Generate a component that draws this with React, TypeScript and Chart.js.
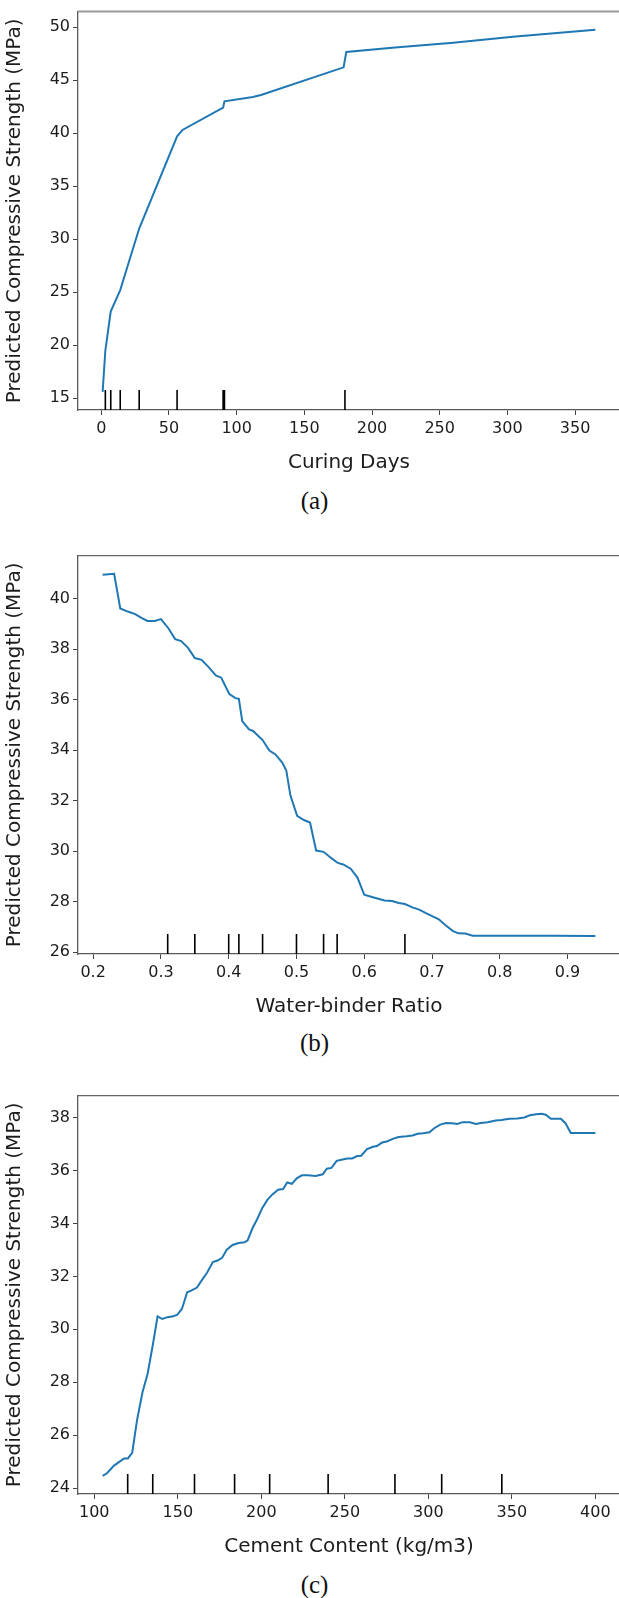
import { useEffect, useRef } from "react";
import { Chart, registerables } from "chart.js";

Chart.register(...registerables);

// ---------- (a) Curing Days ----------
const curingDays = [1, 3, 7, 14, 21, 28, 56, 60, 90, 91, 112, 118, 179, 181, 217, 260, 304, 365];
const strengthA = [15.6, 19.5, 23.2, 25.2, 28.1, 31.0, 39.7, 40.3, 42.4, 43.0, 43.4, 43.6, 46.2, 47.65, 48.07, 48.52, 49.08, 49.75];
const decilesA = [3, 7, 14, 28, 56, 90, 91, 180];
const xTicksA = [0, 50, 100, 150, 200, 250, 300, 350];
const xLabelsA = ["0", "50", "100", "150", "200", "250", "300", "350"];
const yTicksA = [15, 20, 25, 30, 35, 40, 45, 50];

// ---------- (b) Water-binder Ratio ----------
const wbRatio = [
  0.214, 0.231, 0.240, 0.251, 0.262, 0.270, 0.280, 0.291, 0.300, 0.311,
  0.321, 0.330, 0.340, 0.350, 0.360, 0.370, 0.381, 0.389, 0.401, 0.410,
  0.415, 0.420, 0.430, 0.436, 0.450, 0.460, 0.469, 0.479, 0.485, 0.491,
  0.501, 0.511, 0.520, 0.529, 0.540, 0.551, 0.561, 0.569, 0.580, 0.590,
  0.600, 0.610, 0.622, 0.630, 0.641, 0.651, 0.660, 0.671, 0.681, 0.691,
  0.701, 0.710, 0.720, 0.731, 0.739, 0.749, 0.760, 0.819, 0.877, 0.941,
];
const strengthB = [
  40.95, 40.99, 39.61, 39.49, 39.39, 39.26, 39.12, 39.12, 39.19, 38.83,
  38.40, 38.32, 38.05, 37.65, 37.58, 37.30, 36.96, 36.87, 36.22, 36.06,
  36.03, 35.15, 34.82, 34.76, 34.40, 33.98, 33.83, 33.51, 33.19, 32.21,
  31.40, 31.23, 31.13, 30.02, 29.97, 29.73, 29.53, 29.47, 29.30, 28.95,
  28.27, 28.19, 28.10, 28.04, 28.02, 27.94, 27.90, 27.77, 27.68, 27.54,
  27.41, 27.30, 27.06, 26.83, 26.74, 26.73, 26.65, 26.65, 26.65, 26.64,
];
const decilesB = [0.31, 0.35, 0.40, 0.415, 0.45, 0.50, 0.54, 0.56, 0.66];
const xTicksB = [0.2, 0.3, 0.4, 0.5, 0.6, 0.7, 0.8, 0.9];
const xLabelsB = ["0.2", "0.3", "0.4", "0.5", "0.6", "0.7", "0.8", "0.9"];
const yTicksB = [26, 28, 30, 32, 34, 36, 38, 40];

// ---------- (c) Cement Content ----------
const cement = [
  105.0, 107.6, 111.8, 115.4, 117.8, 120.1, 122.7, 125.6, 128.9, 131.9,
  135.0, 137.9, 140.7, 143.8, 147.3, 149.7, 152.5, 155.6, 158.0, 161.5,
  164.4, 167.5, 171.0, 173.8, 176.5, 179.3, 182.8, 186.4, 190.0, 191.8,
  194.7, 197.5, 200.6, 203.7, 206.5, 210.0, 213.1, 215.5, 218.3, 221.2,
  224.3, 227.8, 232.5, 236.8, 239.2, 242.0, 245.1, 248.7, 251.5, 254.4,
  257.4, 259.8, 263.3, 266.9, 269.2, 272.3, 275.1, 278.7, 282.2, 287.0,
  290.5, 293.6, 296.9, 300.7, 303.5, 307.1, 310.6, 314.2, 317.3, 320.6,
  324.9, 328.4, 331.5, 335.5, 340.3, 343.8, 348.5, 353.3, 357.5, 360.8,
  364.6, 367.9, 370.3, 373.4, 379.3, 382.1, 385.3, 391.2, 400.0,
];
const strengthC = [
  24.46, 24.56, 24.85, 25.01, 25.12, 25.12, 25.33, 26.57, 27.63, 28.31,
  29.40, 30.49, 30.39, 30.46, 30.49, 30.55, 30.78, 31.40, 31.46, 31.58,
  31.86, 32.14, 32.54, 32.60, 32.70, 33.01, 33.19, 33.26, 33.29, 33.36,
  33.82, 34.16, 34.59, 34.90, 35.09, 35.28, 35.30, 35.55, 35.50, 35.71,
  35.82, 35.82, 35.80, 35.86, 36.07, 36.10, 36.37, 36.42, 36.46, 36.46,
  36.55, 36.56, 36.81, 36.90, 36.93, 37.06, 37.10, 37.20, 37.27, 37.30,
  37.33, 37.39, 37.41, 37.45, 37.60, 37.74, 37.80, 37.79, 37.76, 37.83,
  37.83, 37.76, 37.80, 37.83, 37.89, 37.91, 37.96, 37.97, 38.01, 38.09,
  38.13, 38.15, 38.11, 37.96, 37.96, 37.79, 37.42, 37.42, 37.42,
];
const decilesC = [120, 135, 160, 184, 205, 240, 280, 308, 344];
const xTicksC = [100, 150, 200, 250, 300, 350, 400];
const xLabelsC = ["100", "150", "200", "250", "300", "350", "400"];
const yTicksC = [24, 26, 28, 30, 32, 34, 36, 38];

const Y_TITLE = "Predicted Compressive Strength (MPa)";
const FONT = "'DejaVu Sans', Verdana, sans-serif";
const LINE_BLUE = "#1f77b4";
const TEXT = "#1c1c1c";
const SPINE = "#5a5a5a";

type Spec = {
  xs: number[];
  ys: number[];
  deciles: number[];
  xTicks: number[];
  xLabels: string[];
  yTicks: number[];
  xTitle: string;
  topColor: string;
  topWidth: number;
};

function PanelChart({ spec, top }: { spec: Spec; top: number }) {
  const ref = useRef<HTMLCanvasElement | null>(null);
  useEffect(() => {
    if (!ref.current) return;
    const s = spec;
    const xmin0 = Math.min(...s.xs);
    const xmax0 = Math.max(...s.xs);
    const ymin0 = Math.min(...s.ys);
    const ymax0 = Math.max(...s.ys);
    const xr = xmax0 - xmin0;
    const yr = ymax0 - ymin0;
    const xMin = xmin0 - 0.05 * xr;
    const xMax = xmax0 + 0.05 * xr;
    const yMin = ymin0 - 0.05 * yr;
    const yMax = ymax0 + 0.05 * yr;
    const rugTop = yMin + 0.05 * (yMax - yMin);

    const lineData = s.xs.map((x, i) => ({ x, y: s.ys[i] }));
    const rugData: any[] = [];
    s.deciles.forEach((d) => {
      rugData.push({ x: d, y: yMin });
      rugData.push({ x: d, y: rugTop });
      rugData.push({ x: d, y: null });
    });

    // matplotlib-style top spine (no right spine: it falls outside the figure)
    const topSpine = {
      id: "topSpine",
      afterDraw(chart: any) {
        const { ctx, chartArea } = chart;
        ctx.save();
        ctx.beginPath();
        ctx.strokeStyle = s.topColor;
        ctx.lineWidth = s.topWidth;
        ctx.moveTo(chartArea.left, chartArea.top);
        ctx.lineTo(chartArea.right + 60, chartArea.top);
        ctx.stroke();
        ctx.restore();
      },
    };

    const chart = new Chart(ref.current, {
      type: "line",
      data: {
        datasets: [
          { data: lineData, borderColor: LINE_BLUE, borderWidth: 2, pointRadius: 0 } as any,
          { data: rugData, borderColor: "#000", borderWidth: 1.6, pointRadius: 0 } as any,
        ],
      },
      options: {
        animation: false,
        responsive: false,
        devicePixelRatio: 1,
        layout: { padding: { top: 8, right: 80, bottom: 0, left: 0 } },
        plugins: { legend: { display: false }, tooltip: { enabled: false } },
        scales: {
          x: {
            type: "linear",
            min: xMin,
            max: xMax,
            afterBuildTicks: (sc: any) => {
              sc.ticks = s.xTicks.map((v) => ({ value: v }));
            },
            afterFit: (sc: any) => {
              sc.height = 70;
            },
            ticks: {
              autoSkip: false,
              maxRotation: 0,
              padding: 4,
              color: TEXT,
              font: { family: FONT, size: 16 },
              callback: (_v: any, i: number) => s.xLabels[i],
            },
            grid: { drawOnChartArea: false, tickLength: 5, color: "#444" },
            border: { display: true, color: SPINE, width: 1.3 },
            title: {
              display: true,
              text: s.xTitle,
              color: TEXT,
              font: { family: FONT, size: 20 },
              padding: { top: 0, bottom: 5 },
            },
          },
          y: {
            type: "linear",
            min: yMin,
            max: yMax,
            afterBuildTicks: (sc: any) => {
              sc.ticks = s.yTicks.map((v) => ({ value: v }));
            },
            afterFit: (sc: any) => {
              sc.width = 78;
            },
            ticks: {
              autoSkip: false,
              padding: 3,
              color: TEXT,
              font: { family: FONT, size: 16 },
              callback: (v: any) => String(v),
            },
            grid: { drawOnChartArea: false, tickLength: 5, color: "#444" },
            border: { display: true, color: SPINE, width: 1.3 },
            title: {
              display: true,
              text: Y_TITLE,
              color: TEXT,
              font: { family: FONT, size: 20 },
              padding: { top: 3, bottom: 0 },
            },
          },
        },
      } as any,
      plugins: [topSpine],
    });
    return () => chart.destroy();
  }, [spec]);
  return (
    <canvas
      ref={ref}
      width={700}
      height={481}
      style={{ position: "absolute", left: 0, top, display: "block" }}
    />
  );
}

const specs: Spec[] = [
  {
    xs: curingDays, ys: strengthA, deciles: decilesA, xTicks: xTicksA, xLabels: xLabelsA,
    yTicks: yTicksA, xTitle: "Curing Days", topColor: "#9a9a9a", topWidth: 2,
  },
  {
    xs: wbRatio, ys: strengthB, deciles: decilesB, xTicks: xTicksB, xLabels: xLabelsB,
    yTicks: yTicksB, xTitle: "Water-binder Ratio", topColor: "#666", topWidth: 1.3,
  },
  {
    xs: cement, ys: strengthC, deciles: decilesC, xTicks: xTicksC, xLabels: xLabelsC,
    yTicks: yTicksC, xTitle: "Cement Content (kg/m3)", topColor: "#666", topWidth: 1.3,
  },
];

const canvasTops = [-1, 543, 1083];
const captions = ["(a)", "(b)", "(c)"];
const captionTops = [487.5, 1030, 1571.5];

export default function App() {
  return (
    <div
      style={{
        position: "absolute",
        left: 0,
        top: 0,
        width: 619,
        height: 1598,
        overflow: "hidden",
        background: "#fff",
      }}
    >
      {specs.map((s, i) => (
        <PanelChart key={i} spec={s} top={canvasTops[i]} />
      ))}
      {captions.map((c, i) => (
        <div
          key={c}
          style={{
            position: "absolute",
            left: 0,
            width: 629,
            top: captionTops[i],
            textAlign: "center",
            fontFamily: "'Liberation Serif', 'Times New Roman', serif",
            fontSize: 25,
            lineHeight: "25px",
            color: "#111",
          }}
        >
          {c}
        </div>
      ))}
    </div>
  );
}
